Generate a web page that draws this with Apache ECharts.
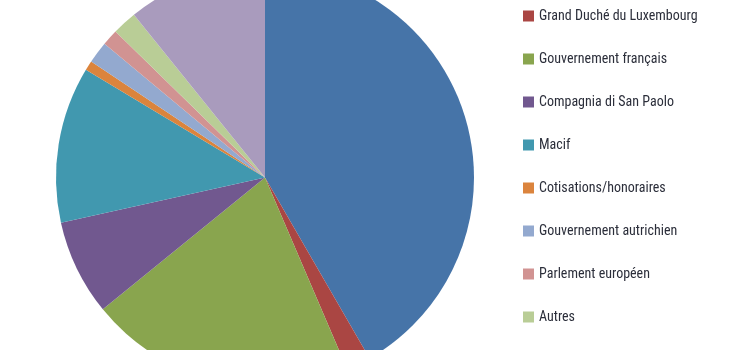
<!DOCTYPE html>
<html>
<head>
<meta charset="utf-8">
<script src="https://cdn.jsdelivr.net/npm/echarts@6/dist/echarts.min.js"></script>
<style>html,body{margin:0;padding:0;background:#fff}#c{width:730px;height:350px}</style>
</head>
<body>
<div id="c"></div>
<script>
const categories = [
  "Commission européenne",
  "Grand Duché du Luxembourg",
  "Gouvernement français",
  "Compagnia di San Paolo",
  "Macif",
  "Cotisations/honoraires",
  "Gouvernement autrichien",
  "Parlement européen",
  "Autres",
  "Fondations privées"
];
const values = [41.7, 1.9, 20.6, 7.4, 12.1, 0.75, 1.7, 1.25, 1.9, 10.8];
const colors = ["#4674A8", "#AA4643", "#89A54E", "#71588F", "#4198AF", "#DB843D", "#93A9CF", "#D19392", "#B9CD96", "#A99BBD"];

const chart = echarts.init(document.getElementById('c'), null, {renderer: 'canvas'});
chart.setOption({
  animation: false,
  color: colors,
  legend: {
    orient: 'vertical',
    left: 518,
    top: -39.5,
    height: 440,
    itemWidth: 11,
    itemHeight: 11,
    itemGap: 28,
    icon: 'rect',
    selectedMode: false,
    textStyle: {
      fontFamily: '"Liberation Sans Narrow", "Roboto Condensed", "DejaVu Sans Condensed", sans-serif',
      fontSize: 14,
      lineHeight: 15,
      color: '#2b2e3a'
    },
    data: categories
  },
  series: [{
    type: 'pie',
    center: [265, 177.5],
    radius: 209,
    startAngle: 90,
    clockwise: true,
    label: {show: false},
    labelLine: {show: false},
    emphasis: {disabled: true},
    itemStyle: {borderWidth: 0},
    data: categories.map((n, i) => ({name: n, value: values[i]}))
  }]
});
</script>
</body>
</html>
